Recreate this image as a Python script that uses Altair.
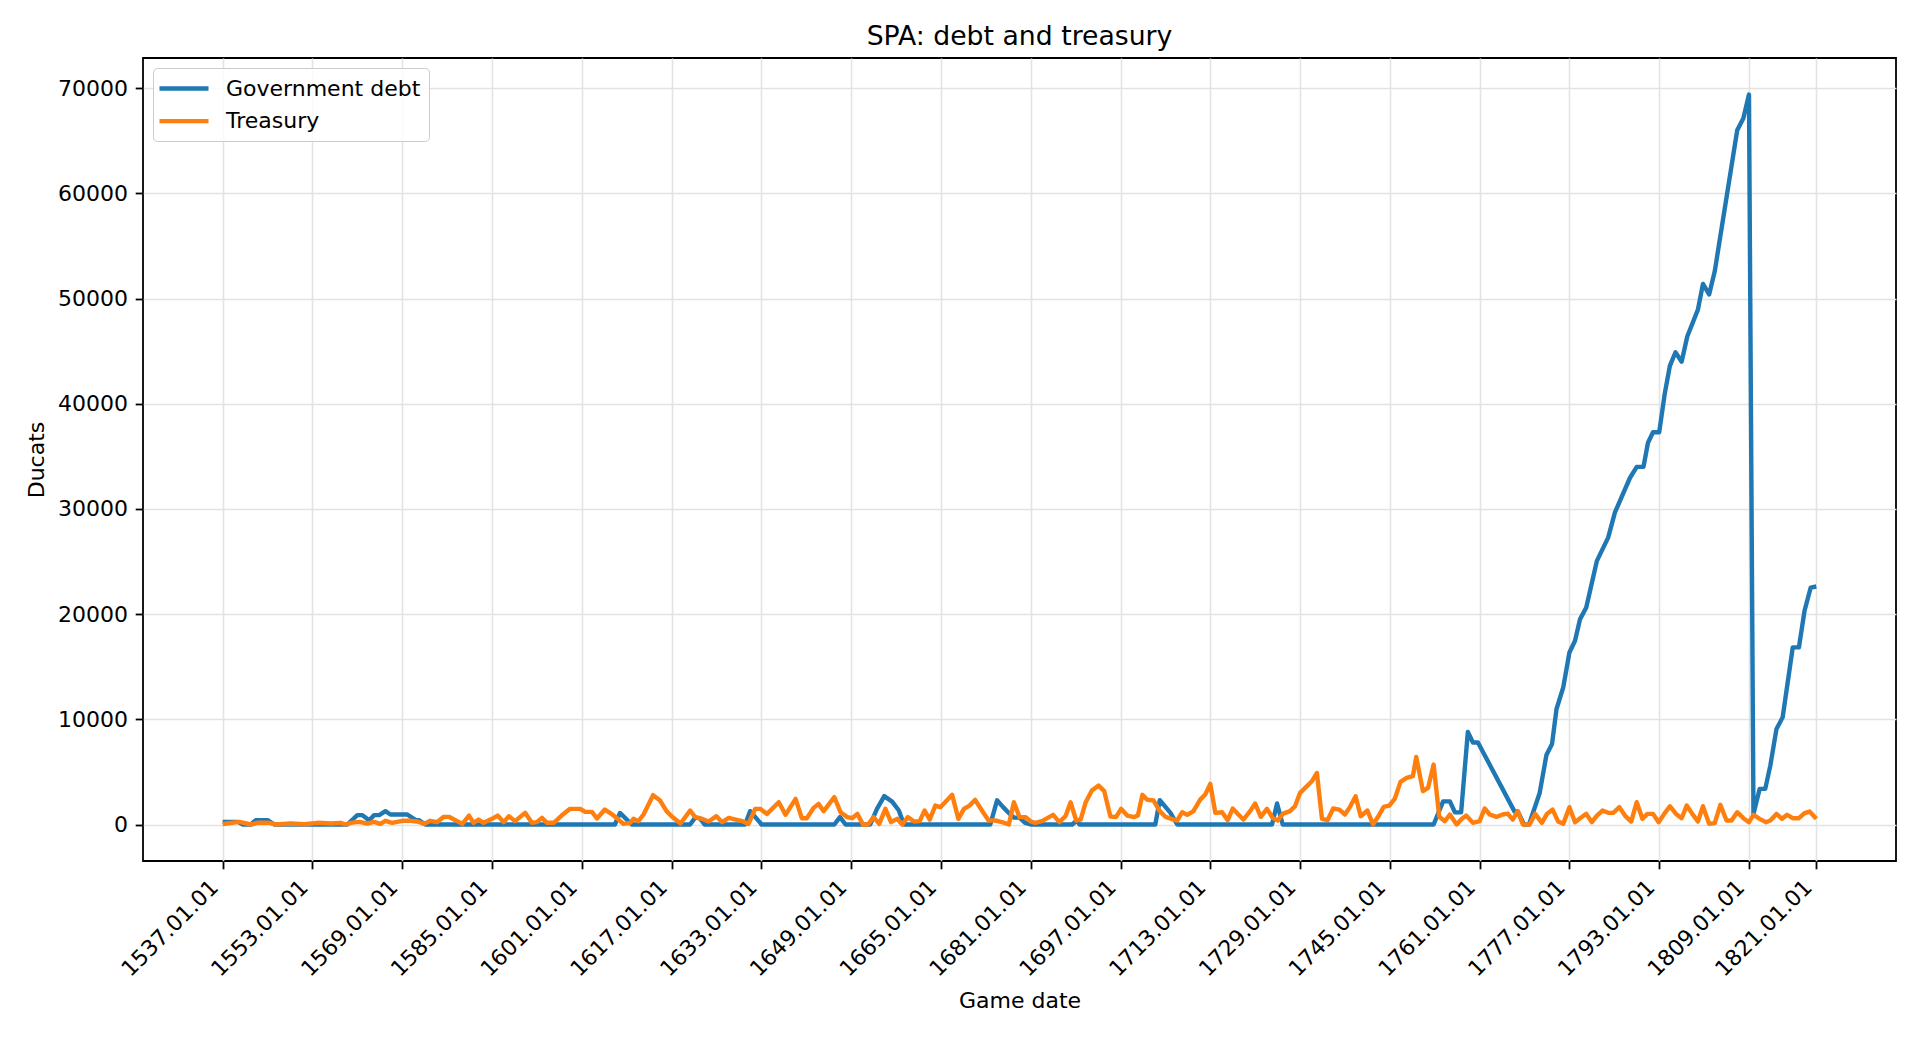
import altair as alt
import pandas as pd

# ---- data ----
debt_years = [1537, 1539.7, 1540.6, 1542.0, 1542.9, 1545.0, 1546.2, 1559.2, 1561.0, 1561.9, 1563.1, 1564.0,
              1564.9, 1566.0, 1566.9, 1569.9, 1571.4, 1572.0, 1573.1, 1606.9, 1607.8, 1609.9, 1620.3, 1621.2,
              1622.0, 1622.9, 1630.1, 1631.0, 1632.8, 1633.0, 1646.0, 1647.0, 1648.0, 1652.4, 1653.6, 1654.9,
              1656.3, 1657.5, 1658.4, 1673.8, 1675.0, 1676.0, 1677.0, 1678.0, 1679.0, 1680.0, 1681.0, 1688.4,
              1689.2, 1689.7, 1703.2, 1704.0, 1705.9, 1707.1, 1724.0, 1724.9, 1725.9, 1752.8, 1754.5, 1755.7,
              1756.6, 1757.7, 1758.9, 1759.8, 1760.7, 1767.2, 1767.8, 1768.9, 1769.8, 1771.7, 1772.9, 1773.9,
              1774.7, 1775.9, 1777.0, 1778.0, 1778.9, 1780.0, 1781.9, 1783.9, 1785.1, 1787.8, 1789.0, 1790.2,
              1791.0, 1791.9, 1793.0, 1794.0, 1794.9, 1795.9, 1797.0, 1798.0, 1799.9, 1800.8, 1801.9, 1802.9,
              1806.9, 1808.0, 1809.0, 1809.8, 1810.9, 1811.9, 1812.8, 1813.9, 1815.0, 1816.8, 1817.9, 1818.9,
              1820.0, 1821.0]
debt_values = [250, 250, 0, 0, 410, 410, 0, 0, 890, 890, 410, 890,
               890, 1270, 950, 950, 410, 410, 0, 0, 1100, 0, 0, 650,
               600, 0, 0, 1270, 160, 0, 0, 700, 0, 0, 1490, 2700,
               2180, 1330, 0, 0, 2300, 1700, 1150, 650, 650, 150, 0, 0,
               380, 0, 0, 2310, 1100, 0, 0, 2000, 0, 0, 2200, 2200,
               1150, 1150, 8800, 7800, 7800, 1250, 1250, 0, 0, 3000, 6600, 7650,
               10980, 13040, 16360, 17470, 19530, 20640, 25070, 27280, 29660, 32970, 34000, 34000,
               36300, 37300, 37300, 41000, 43600, 44900, 44000, 46400, 48950, 51400, 50400, 52600,
               66000, 67150, 69400, 1000, 3390, 3390, 5600, 9080, 10190, 16840, 16840, 20320,
               22530, 22630]

treasury_years = [1537.0, 1540.0, 1542.0, 1543.2, 1545.3, 1546.5, 1549.1, 1551.5, 1553.9, 1556.3, 1558.0, 1558.9,
                  1559.8, 1561.3, 1562.8, 1564.0, 1565.1, 1566.0, 1567.2, 1569.0, 1570.5, 1571.7, 1572.9, 1574.0,
                  1575.2, 1576.4, 1577.3, 1578.8, 1579.7, 1580.9, 1581.7, 1582.6, 1583.5, 1585.0, 1586.0, 1587.1,
                  1588.0, 1589.1, 1590.9, 1592.1, 1593.0, 1593.9, 1594.8, 1596.0, 1597.4, 1598.9, 1600.7, 1601.6,
                  1602.8, 1603.7, 1605.1, 1606.0, 1607.2, 1608.4, 1609.6, 1610.2, 1611.1, 1612.0, 1613.7, 1614.9,
                  1616.1, 1617.0, 1618.6, 1620.3, 1621.2, 1622.4, 1623.6, 1625.0, 1626.0, 1627.2, 1628.4, 1629.6,
                  1630.7, 1631.9, 1632.8, 1634.0, 1636.1, 1637.3, 1639.1, 1640.2, 1641.1, 1642.3, 1643.2, 1644.1,
                  1646.0, 1647.1, 1648.3, 1649.2, 1650.1, 1651.1, 1652.0, 1653.0, 1654.0, 1655.1, 1656.1, 1657.2,
                  1658.1, 1659.1, 1660.2, 1661.2, 1662.1, 1663.0, 1664.0, 1664.9, 1667.0, 1668.1, 1669.1, 1670.1,
                  1671.1, 1672.3, 1673.5, 1674.7, 1675.9, 1677.1, 1678.0, 1679.0, 1680.1, 1681.0, 1681.8, 1683.0,
                  1685.0, 1686.1, 1687.2, 1688.1, 1689.1, 1689.9, 1690.8, 1691.9, 1693.1, 1694.1, 1695.2, 1696.2,
                  1697.1, 1698.2, 1699.4, 1700.1, 1700.9, 1701.7, 1702.9, 1704.0, 1705.0, 1706.5, 1707.1, 1708.0,
                  1708.9, 1710.0, 1711.2, 1712.1, 1713.0, 1713.9, 1715.1, 1716.1, 1717.0, 1718.0, 1718.9, 1720.1,
                  1721.0, 1722.0, 1723.1, 1724.1, 1725.0, 1726.0, 1727.2, 1728.1, 1729.0, 1730.2, 1731.1, 1732.0,
                  1732.9, 1733.9, 1734.9, 1736.0, 1737.0, 1737.9, 1738.9, 1739.8, 1741.0, 1742.0, 1742.9, 1743.9,
                  1744.9, 1745.9, 1746.9, 1748.0, 1749.1, 1749.7, 1750.9, 1751.8, 1752.8, 1753.8, 1754.8, 1755.7,
                  1756.9, 1757.7, 1758.6, 1759.8, 1761.0, 1761.9, 1762.8, 1764.0, 1765.1, 1766.0, 1766.9, 1767.8,
                  1768.7, 1769.9, 1770.9, 1772.1, 1773.0, 1774.0, 1775.0, 1775.9, 1777.0, 1778.0, 1778.9, 1780.0,
                  1781.0, 1781.9, 1782.9, 1783.9, 1784.8, 1785.9, 1786.9, 1788.0, 1789.0, 1790.0, 1790.9, 1791.9,
                  1792.9, 1793.9, 1794.9, 1796.0, 1797.0, 1797.9, 1798.9, 1799.9, 1800.8, 1801.9, 1802.9, 1803.9,
                  1805.0, 1805.9, 1806.9, 1808.0, 1809.0, 1809.8, 1810.9, 1812.0, 1812.8, 1813.9, 1814.9, 1815.8,
                  1816.8, 1817.9, 1818.9, 1819.8, 1821.0]
treasury_values = [50, 250, 0, 160, 160, 0, 95, 30, 160, 95, 160, 0,
                   160, 250, 95, 250, 60, 350, 160, 350, 350, 285, 60, 350,
                   220, 730, 730, 320, 60, 850, 160, 470, 160, 540, 850, 220,
                   790, 320, 1110, 160, 220, 630, 160, 160, 850, 1490, 1490, 1200,
                   1200, 570, 1420, 1110, 630, 60, 160, 540, 320, 950, 2790, 2310,
                   1270, 790, 100, 1330, 700, 540, 285, 790, 220, 630, 470, 320,
                   60, 1490, 1490, 1010, 2120, 920, 2440, 600, 600, 1580, 1960, 1270,
                   2600, 1170, 700, 600, 1010, 0, 0, 700, 60, 1490, 220, 540,
                   0, 700, 285, 320, 1330, 470, 1800, 1650, 2820, 540, 1490, 1800,
                   2340, 1330, 380, 380, 220, 0, 2120, 700, 700, 285, 160, 320,
                   920, 220, 790, 2120, 380, 470, 2120, 3230, 3700, 3170, 760, 700,
                   1490, 850, 700, 850, 2820, 2370, 2280, 1270, 730, 470, 380, 1170,
                   920, 1270, 2370, 2850, 3860, 1110, 1170, 410, 1520, 950, 470, 1270,
                   1990, 730, 1490, 630, 380, 1040, 1270, 1740, 3010, 3640, 4110, 4900,
                   540, 410, 1520, 1420, 950, 1680, 2690, 790, 1330, 0, 730, 1680,
                   1800, 2470, 4050, 4430, 4590, 6420, 3170, 3480, 5700, 730, 320, 950,
                   0, 470, 850, 160, 320, 1520, 950, 730, 950, 1040, 470, 1270,
                   0, 0, 1010, 160, 1010, 1420, 280, 60, 1650, 220, 600, 1010,
                   220, 850, 1330, 1110, 1110, 1650, 850, 280, 2120, 540, 1010, 1010,
                   220, 1010, 1740, 1010, 600, 1800, 1010, 280, 1740, 60, 130, 1870,
                   380, 380, 1170, 600, 220, 920, 540, 220, 380, 1010, 540, 920,
                   600, 600, 1080, 1230, 540]

series_names = ["Government debt", "Treasury"]
series_colors = ["#1f77b4", "#ff7f0e"]
x_tick_years = [1537, 1553, 1569, 1585, 1601, 1617, 1633, 1649, 1665, 1681, 1697,
                1713, 1729, 1745, 1761, 1777, 1793, 1809, 1821]
y_tick_values = [0, 10000, 20000, 30000, 40000, 50000, 60000, 70000]

debt_df = pd.DataFrame({"year": debt_years, "value": debt_values, "series": series_names[0]})
tre_df = pd.DataFrame({"year": treasury_years, "value": treasury_values, "series": series_names[1]})

FONT = "DejaVu Sans"

x_enc = alt.X(
    "year:Q",
    scale=alt.Scale(domain=[1522.8, 1835.2], nice=False, zero=False),
    axis=alt.Axis(
        values=x_tick_years,
        labelExpr="datum.value + '.01.01'",
        labelAngle=315,
        labelAlign="right",
        labelBaseline="bottom",
        labelPadding=23,
        title="Game date",
    ),
)
y_enc = alt.Y(
    "value:Q",
    scale=alt.Scale(domain=[-3470, 72880], nice=False, zero=False),
    axis=alt.Axis(values=y_tick_values, format="d", title="Ducats"),
)
color_enc = alt.Color(
    "series:N",
    scale=alt.Scale(domain=series_names, range=series_colors),
    legend=alt.Legend(
        title=None,
        orient="none",
        legendX=10,
        legendY=10,
        symbolType="M-1.4,0H3.5",
        symbolSize=400,
        symbolStrokeWidth=4.4,
        labelFontSize=22,
        labelFont=FONT,
        labelColor="black",
        labelOffset=40,
        labelLimit=500,
        rowPadding=8.6,
        padding=8,
        fillColor="rgba(255,255,255,0.8)",
        strokeColor="#cccccc",
        cornerRadius=4,
    ),
)

line_kw = dict(strokeWidth=4.4, strokeJoin="round", clip=True)
debt_line = alt.Chart(debt_df).mark_line(**line_kw).encode(x=x_enc, y=y_enc, color=color_enc)
tre_line = alt.Chart(tre_df).mark_line(**line_kw).encode(x=x_enc, y=y_enc, color=color_enc)

chart = (
    alt.layer(debt_line, tre_line)
    .properties(
        width=1753,
        height=803,
        title=alt.TitleParams(
            "SPA: debt and treasury",
            fontSize=26.7,
            font=FONT,
            fontWeight="normal",
            color="black",
            anchor="middle",
            baseline="alphabetic",
            offset=13,
            dy=27,
        ),
        autosize=alt.AutoSizeParams(type="none"),
        padding={"left": 135, "top": 50, "right": 16, "bottom": 171},
    )
    .configure_view(stroke="black", strokeWidth=1.8)
    .configure_axis(
        domain=False,
        grid=True,
        gridColor="#e3e3e3",
        gridWidth=1.6,
        tickColor="black",
        tickWidth=1.8,
        tickSize=7.8,
        labelFont=FONT,
        labelFontSize=22,
        labelColor="black",
        labelPadding=7.8,
        titleFont=FONT,
        titleFontSize=22,
        titleFontWeight="normal",
        titleColor="black",
        labelFlush=False,
        labelOverlap=False,
    )
    .configure_axisY(titlePadding=9)
    .configure_axisX(titlePadding=10)
)

chart.save("out.html", embed_options={"renderer": "svg", "actions": False})
